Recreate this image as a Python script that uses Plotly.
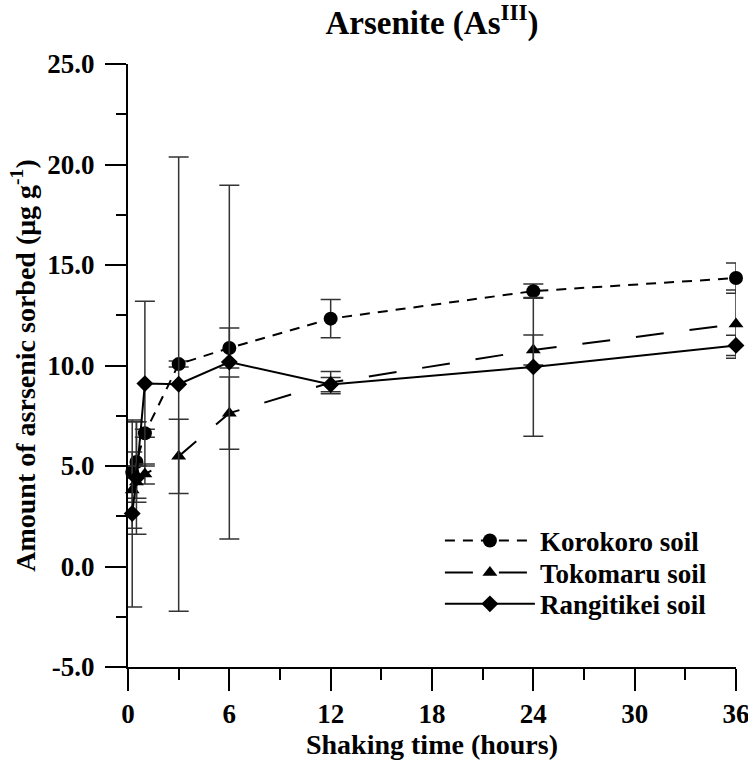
import plotly.graph_objects as go

# Shaking time (hours)
times = [0.25, 0.5, 1, 3, 6, 12, 24, 36]

korokoro = [4.7, 5.2, 6.63, 10.07, 10.87, 12.33, 13.7, 14.35]
korokoro_err = [0.3, 2.0, 0.2, 0.15, 1.0, 0.95, 0.35, 0.75]

tokomaru = [3.8, 4.2, 4.6, 5.48, 7.63, 9.15, 10.77, 12.06]
tokomaru_err = [1.9, 0.8, 0.5, 1.85, 1.8, 0.55, 0.75, 1.7]

rangitikei = [2.64, 4.4, 9.1, 9.07, 10.17, 9.05, 9.93, 11.0]
rangitikei_err = [4.65, 2.8, 4.1, 11.3, 8.8, 0.35, 3.45, 0.5]

series_names = ["Korokoro soil", "Tokomaru soil", "Rangitikei soil"]
x_ticks = [0, 6, 12, 18, 24, 30, 36]
y_ticks = [-5, 0, 5, 10, 15, 20, 25]

FONT = "Liberation Serif, Times New Roman, serif"

fig = go.Figure()

styles = [
    (korokoro, korokoro_err, "circle", 14, "10px,8px", "legend"),
    (tokomaru, tokomaru_err, "triangle-up", 13, "28px,26px", "legend2"),
    (rangitikei, rangitikei_err, "diamond", 13, "solid", "legend3"),
]

for name, (vals, errs, sym, size, dash, lg) in zip(series_names, styles):
    fig.add_trace(go.Scatter(
        x=times, y=vals, name=name, mode="lines+markers",
        line=dict(color="black", width=2, dash=dash),
        marker=dict(symbol=sym, size=size, color="black"),
        error_y=dict(type="data", array=errs, visible=True,
                     color="#333333", thickness=1.5, width=10),
        cliponaxis=False, legend=lg,
    ))

legend_font = dict(family=FONT, size=27, color="black", weight="bold")
legend_common = dict(x=0.513, xanchor="left", yanchor="middle",
                     bgcolor="rgba(0,0,0,0)", itemwidth=90, font=legend_font)

fig.update_layout(
    width=748, height=763,
    margin=dict(l=128, r=12, t=64, b=96, autoexpand=False),
    plot_bgcolor="white", paper_bgcolor="white",
    font=dict(family=FONT, size=26, color="black", weight="bold"),
    title=dict(text="Arsenite (As<sup>III</sup>)", x=0.5, xref="paper",
               y=0.971, yref="container", yanchor="middle",
               font=dict(family=FONT, size=33, color="black", weight="bold")),
    showlegend=True,
    legend=dict(y=0.209, **legend_common),
    legend2=dict(y=0.156, **legend_common),
    legend3=dict(y=0.104, **legend_common),
)

fig.update_xaxes(
    range=[0, 36], tickvals=x_ticks, ticktext=[str(t) for t in x_ticks],
    showline=True, linecolor="black", linewidth=2,
    ticks="outside", ticklen=22, tickwidth=2, tickcolor="black",
    minor=dict(dtick=3, ticks="outside", ticklen=11, tickwidth=2, tickcolor="black"),
    showgrid=False, zeroline=False, automargin=False, ticklabeloverflow="allow",
    tickfont=dict(family=FONT, size=27, weight="bold"),
    title=dict(text="Shaking time (hours)", standoff=2,
               font=dict(family=FONT, size=28, weight="bold")),
)

fig.update_yaxes(
    range=[-5, 25], tickvals=y_ticks, ticktext=[f"{v:.1f}" for v in y_ticks],
    showline=True, linecolor="black", linewidth=2,
    ticks="outside", ticklen=21, tickwidth=2, tickcolor="black",
    minor=dict(dtick=2.5, ticks="outside", ticklen=10, tickwidth=2, tickcolor="black"),
    showgrid=False, zeroline=False, automargin=False, ticklabelstandoff=5,
    ticklabeloverflow="allow",
    tickfont=dict(family=FONT, size=27, weight="bold"),
    title=dict(text="Amount of asrsenic sorbed (μg g<sup>-1</sup>)", standoff=4,
               font=dict(family=FONT, size=28, weight="bold")),
)

fig.write_html(
    "out.html",
    config={"displayModeBar": False},
    post_script="document.body.style.margin='0';document.body.style.overflow='hidden';",
)
